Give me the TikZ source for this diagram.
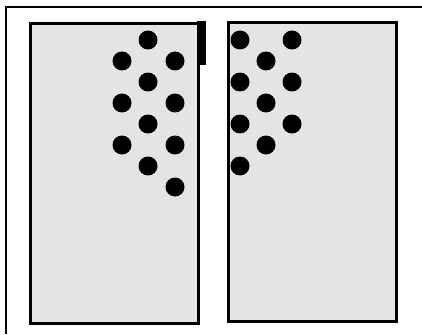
\documentclass[tikz,border=0pt]{standalone}
\usepackage{tikz}
\usetikzlibrary{positioning}
\definecolor{cPanel}{HTML}{E4E4E4}
\definecolor{cInk}{HTML}{000000}
\tikzset{
  panel/.style={draw=cInk, line width=2.8pt, fill=cPanel, inner sep=0pt,
                minimum width=168pt, anchor=north west},
  dot/.style={circle, fill=cInk, inner sep=0pt, minimum size=19pt},
  tab/.style={fill=cInk, inner sep=0pt, minimum width=9pt,
              minimum height=44pt, anchor=north west},
  frame/.style={cInk, line width=2.6pt}
}

\begin{document}
\begin{tikzpicture}[x=1pt, y=-1pt]
\useasboundingbox (0,0) rectangle (422,334);
% outer frame (top and left sides)
\coordinate (fBot) at (6,334);
\coordinate (fCorner) at (6,7);
\coordinate (fTop) at (422,7);
\draw[frame] (fBot) -- (fCorner) -- (fTop);
% the two panels
\node[panel, minimum height=300pt] (leftPanel) at (29,22) {};
\node[panel, minimum height=299pt] (rightPanel) at (227,21) {};
\node[tab] (leftTab) at (197,21) {};
% dots
\foreach \x/\y [count=\i] in {148/40, 122/61, 175/61, 148/82, 122/103, 175/103,
    148/124, 122/145, 175/145, 148/166, 175/187}
  \node[dot] (l\i) at (\x,\y) {};
\foreach \x/\y [count=\i] in {240/40, 292/40, 266/61, 240/82, 292/82, 266/103,
    240/124, 292/124, 266/145, 240/166}
  \node[dot] (r\i) at (\x,\y) {};
\end{tikzpicture}
\end{document}
